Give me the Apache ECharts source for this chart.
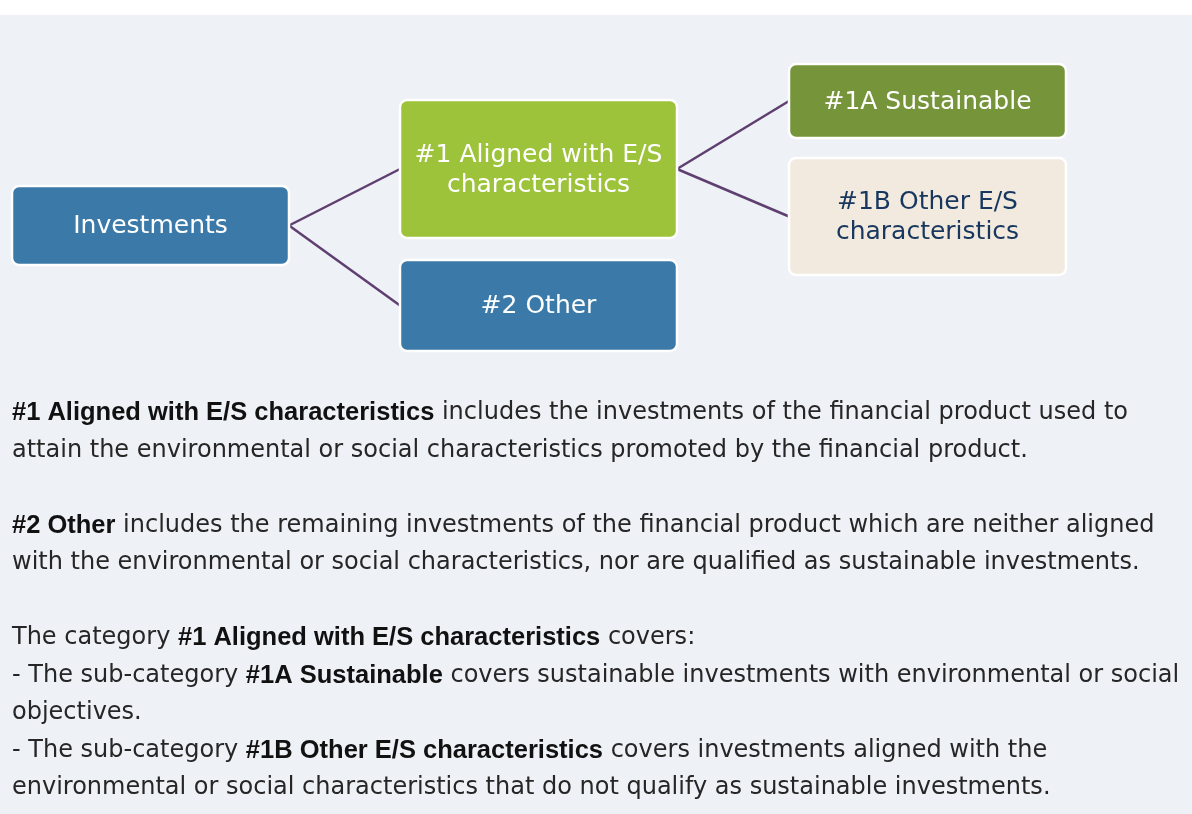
<!DOCTYPE html>
<html>
<head>
<meta charset="utf-8">
<script src="https://cdn.jsdelivr.net/npm/echarts@6/dist/echarts.min.js"></script>
<style>
html, body { margin: 0; padding: 0; background: #ffffff; }
#chart { width: 1192px; height: 814px; }
</style>
</head>
<body>
<div id="chart"></div>
<script>
// tree of the asset allocation
var nodeNames = ['Investments', '#1 Aligned with E/S\ncharacteristics', '#2 Other', '#1A Sustainable', '#1B Other E/S\ncharacteristics'];
var nodeParents = [-1, 0, 0, 1, 1];
var nodeLevels = [0, 1, 1, 2, 2];

// explanatory notes, one entry per line ({b|...} = bold)
var noteLines = [
    '{b|#1 Aligned with E/S characteristics} includes the investments of the financial product used to',
    'attain the environmental or social characteristics promoted by the financial product.',
    '',
    '{b|#2 Other} includes the remaining investments of the financial product which are neither aligned',
    'with the environmental or social characteristics, nor are qualified as sustainable investments.',
    '',
    'The category {b|#1 Aligned with E/S characteristics} covers:',
    '- The sub-category {b|#1A Sustainable} covers sustainable investments with environmental or social',
    'objectives.',
    '- The sub-category {b|#1B Other E/S characteristics} covers investments aligned with the',
    'environmental or social characteristics that do not qualify as sustainable investments.'
];

// layout
var levelLeft = [12, 400, 789];
var boxWidth = 277;
var boxTop = [186, 100, 260, 64, 158];
var boxBottom = [265, 238, 351, 138, 275];
var boxFill = ['#3b7aa8', '#9dc33b', '#3b7aa8', '#76943a', '#f2eade'];
var boxTextColor = ['#ffffff', '#ffffff', '#ffffff', '#ffffff', '#17375e'];
var FONT = '"DejaVu Sans", sans-serif';
var BOLD_FONT = '"Liberation Sans", Arial, sans-serif';

var boxData = nodeNames.map(function (name, i) {
    var x0 = levelLeft[nodeLevels[i]];
    return [x0, boxTop[i], x0 + boxWidth, boxBottom[i], i];
});

var linkData = [];
nodeParents.forEach(function (p, i) {
    if (p < 0) return;
    linkData.push([
        levelLeft[nodeLevels[p]] + boxWidth, (boxTop[p] + boxBottom[p]) / 2,
        levelLeft[nodeLevels[i]], (boxTop[i] + boxBottom[i]) / 2
    ]);
});

var noteGraphics = noteLines.map(function (line, i) {
    return {
        type: 'text',
        x: 12,
        y: 413 + i * 37.5,
        silent: true,
        style: {
            text: line,
            verticalAlign: 'middle',
            fontFamily: FONT,
            fontSize: 24,
            fill: '#262626',
            rich: {
                b: { fontFamily: BOLD_FONT, fontSize: 25.5, fontWeight: 'bold', fill: '#111111' }
            }
        }
    };
});

var chart = echarts.init(document.getElementById('chart'));
var option = {
    backgroundColor: '#eef1f6',
    animation: false,
    grid: { left: 0, right: 0, top: 0, bottom: 0 },
    xAxis: { type: 'value', min: 0, max: 1192, show: false },
    yAxis: { type: 'value', min: 0, max: 814, inverse: true, show: false },
    graphic: [
        { type: 'rect', shape: { x: 0, y: 0, width: 1192, height: 15 }, style: { fill: '#ffffff' }, silent: true }
    ].concat(noteGraphics),
    series: [
        {
            type: 'custom',
            data: linkData,
            silent: true,
            renderItem: function (params, api) {
                var a = api.coord([api.value(0), api.value(1)]);
                var b = api.coord([api.value(2), api.value(3)]);
                return {
                    type: 'line',
                    shape: { x1: a[0], y1: a[1], x2: b[0], y2: b[1] },
                    style: { stroke: '#5e3f70', lineWidth: 2.5 }
                };
            }
        },
        {
            type: 'custom',
            data: boxData,
            silent: true,
            z: 3,
            renderItem: function (params, api) {
                var a = api.coord([api.value(0), api.value(1)]);
                var b = api.coord([api.value(2), api.value(3)]);
                var i = api.value(4);
                return {
                    type: 'group',
                    children: [
                        {
                            type: 'rect',
                            shape: { x: a[0], y: a[1], width: b[0] - a[0], height: b[1] - a[1], r: 7 },
                            style: { fill: boxFill[i], stroke: '#ffffff', lineWidth: 2.5 }
                        },
                        {
                            type: 'text',
                            x: (a[0] + b[0]) / 2,
                            y: (a[1] + b[1]) / 2 + 1,
                            style: {
                                text: nodeNames[i],
                                align: 'center',
                                verticalAlign: 'middle',
                                fontFamily: FONT,
                                fontSize: 25,
                                lineHeight: 30,
                                fill: boxTextColor[i]
                            }
                        }
                    ]
                };
            }
        }
    ]
};
chart.setOption(option);
</script>
</body>
</html>
